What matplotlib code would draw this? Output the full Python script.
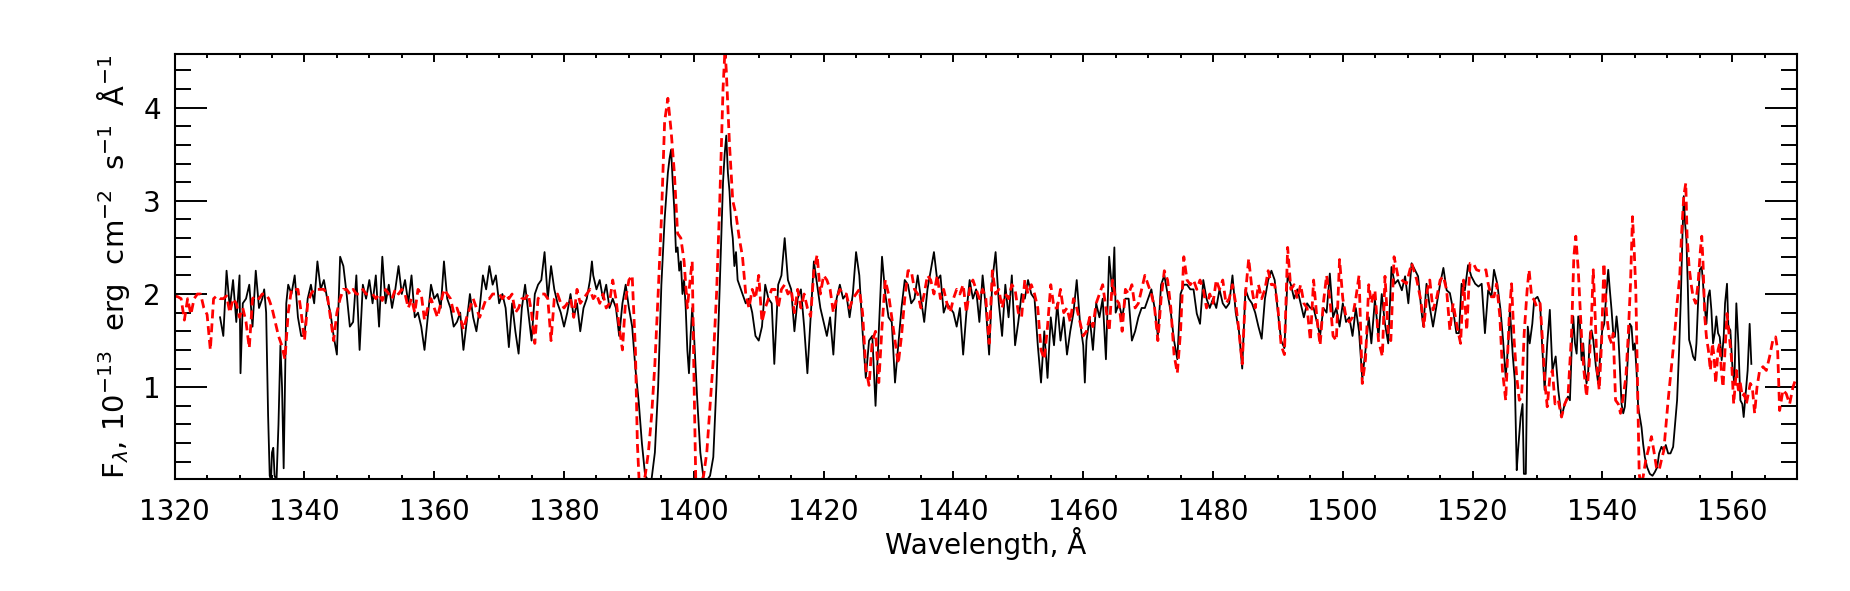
import matplotlib
matplotlib.use('Agg')
import matplotlib.pyplot as plt
from matplotlib.ticker import MultipleLocator

plt.rcParams.update({'font.family': 'DejaVu Sans', 'font.size': 20,
                     'mathtext.fontset': 'dejavusans', 'axes.linewidth': 1.5})

obs_wave = [
    1327.0, 1327.5, 1328.0, 1328.5, 1329.0, 1329.5, 1330.0, 1330.15, 1330.5, 1331.0,
    1331.5, 1332.0, 1332.5, 1333.0, 1333.5, 1333.8, 1334.1, 1334.4, 1334.65, 1334.85,
    1335.0, 1335.2, 1335.4, 1335.7, 1336.0, 1336.3, 1336.55, 1336.8, 1337.0, 1337.2,
    1337.5, 1338.0, 1338.5, 1339.0, 1339.5, 1340.0, 1340.5, 1341.0, 1341.5, 1342.0,
    1342.5, 1343.0, 1343.5, 1344.0, 1344.5, 1345.0, 1345.5, 1346.0, 1346.5, 1347.0,
    1347.5, 1348.0, 1348.5, 1349.0, 1349.5, 1350.0,
    1350.5, 1351.0, 1351.5, 1352.0, 1352.5, 1353.0, 1353.5, 1354.0, 1354.5, 1355.0,
    1355.5, 1356.0, 1356.5, 1357.0, 1357.5, 1358.0, 1358.5, 1359.0, 1359.5, 1360.0,
    1360.5, 1361.0, 1361.5, 1362.0, 1362.5, 1363.0, 1363.5, 1364.0, 1364.5, 1365.0,
    1365.5, 1366.0, 1366.5, 1367.0, 1367.5, 1368.0, 1368.5, 1369.0, 1369.5, 1370.0,
    1370.5, 1371.0, 1371.5, 1372.0, 1372.5, 1373.0, 1373.5, 1374.0, 1374.5, 1375.0,
    1375.5, 1376.0, 1376.5, 1377.0, 1377.5, 1378.0, 1378.5, 1379.0, 1379.5, 1380.0,
    1380.5, 1381.0, 1381.5,
    1382.0, 1382.5, 1383.0, 1383.5, 1384.0, 1384.3, 1384.5, 1385.0, 1385.5, 1386.0,
    1386.5, 1387.0, 1387.5, 1388.0, 1388.5, 1389.0, 1389.5, 1390.0, 1390.5, 1391.0,
    1391.5, 1392.0, 1392.5, 1393.0, 1393.5, 1394.0, 1394.5, 1395.0, 1395.5, 1395.75,
    1396.0, 1396.25, 1396.5, 1396.75, 1397.0, 1397.25, 1397.5, 1397.75, 1398.0, 1398.25,
    1398.5, 1398.75, 1399.0, 1399.25, 1399.5, 1399.75, 1400.0, 1400.5, 1401.0, 1401.5,
    1402.0, 1402.5, 1403.0, 1403.5, 1404.0, 1404.5, 1404.75, 1405.0, 1405.25, 1405.5,
    1405.75, 1406.0, 1406.25, 1406.5, 1406.75, 1407.0, 1407.5, 1408.0, 1408.5, 1409.0,
    1409.5, 1410.0, 1410.5, 1411.0, 1411.5,
    1412.0, 1412.4, 1413.0, 1413.5, 1414.0, 1414.5, 1415.0, 1415.5, 1416.0, 1416.5,
    1417.0, 1417.5, 1418.0, 1418.5, 1419.0, 1419.5, 1420.0, 1420.5, 1421.0, 1421.5,
    1422.0, 1422.5, 1423.0, 1423.5, 1424.0, 1424.5, 1425.0, 1425.5, 1426.0, 1426.5,
    1427.0, 1427.5, 1428.0, 1428.5, 1429.0, 1429.5, 1430.0, 1430.5, 1431.0, 1431.5,
    1432.0, 1432.5, 1433.0, 1433.5, 1434.0, 1434.5, 1435.0, 1435.5, 1436.0, 1436.5,
    1437.0, 1437.5, 1438.0, 1438.5, 1439.0, 1439.5, 1440.0, 1440.5, 1441.0, 1441.5,
    1442.0, 1442.5,
    1443.0, 1443.5, 1444.0, 1444.5, 1445.0, 1445.5, 1446.0, 1446.5, 1447.0, 1447.5,
    1448.0, 1448.5, 1449.0, 1449.5, 1450.0, 1450.5, 1451.0, 1451.5, 1452.0, 1452.5,
    1453.0, 1453.5, 1454.0, 1454.5, 1455.0, 1455.5, 1456.0, 1456.5, 1457.0, 1457.5,
    1458.0, 1458.5, 1459.0, 1459.5, 1460.0, 1460.25, 1460.5, 1461.0, 1461.5, 1462.0,
    1462.5, 1463.0, 1463.5, 1464.0, 1464.5, 1464.8, 1465.0, 1465.5, 1466.0, 1466.5,
    1467.0, 1467.5, 1468.0, 1468.5, 1469.0, 1469.5, 1470.0, 1470.5, 1471.0, 1471.5,
    1472.0, 1472.5, 1473.0, 1473.5,
    1474.0, 1474.5, 1475.0, 1475.5, 1476.0, 1476.5, 1477.0, 1477.5, 1478.0, 1478.5,
    1479.0, 1479.5, 1480.0, 1480.5, 1481.0, 1481.5, 1482.0, 1482.5, 1483.0, 1483.5,
    1484.0, 1484.5, 1485.0, 1485.5, 1486.0, 1486.5, 1487.0, 1487.5, 1488.0, 1488.5,
    1489.0, 1489.5, 1490.0, 1490.5, 1491.0, 1491.5, 1492.0, 1492.5, 1493.0, 1493.5,
    1494.0, 1494.5, 1495.0, 1495.5, 1496.0, 1496.5, 1497.0, 1497.5, 1498.0, 1498.5,
    1499.0, 1499.5, 1500.0, 1500.5, 1501.0, 1501.5, 1502.0, 1502.5, 1503.0, 1503.5,
    1504.0,
    1504.4, 1504.95, 1505.5, 1506.0, 1506.5, 1507.0, 1507.5, 1508.0, 1508.5, 1509.1,
    1509.6, 1510.1, 1510.6, 1511.1, 1511.6, 1512.1, 1512.4, 1512.9, 1513.4, 1513.9,
    1514.5, 1515.0, 1515.5, 1516.0, 1516.5, 1517.0, 1517.5, 1517.9, 1518.3, 1518.8,
    1519.3, 1519.8, 1520.4, 1520.9, 1521.4, 1521.9, 1522.4, 1522.9, 1523.3, 1523.8,
    1524.3, 1524.7, 1525.1, 1525.5, 1525.75, 1526.2, 1526.5, 1526.8, 1527.0, 1527.4,
    1527.7, 1527.9, 1528.2, 1528.5, 1528.8, 1529.2, 1529.5, 1530.0, 1530.4, 1530.7,
    1531.1, 1531.5, 1531.9, 1532.3, 1532.8, 1533.2, 1533.7, 1534.2, 1534.7,
    1535.0, 1535.26, 1535.51, 1535.77, 1536.03, 1536.28, 1536.54, 1536.79, 1537.05, 1537.31,
    1537.56, 1537.82, 1538.08, 1538.33, 1538.59, 1539.0, 1539.36, 1539.72, 1539.97, 1540.28,
    1540.64, 1540.9, 1541.15, 1541.41, 1541.67, 1541.92, 1542.18, 1542.44, 1542.69, 1542.95,
    1543.21, 1543.46, 1543.72, 1543.97, 1544.23, 1544.49, 1544.74, 1545.0, 1545.26, 1545.51,
    1545.77, 1546.03, 1546.28, 1546.54, 1546.9, 1547.31, 1547.72, 1548.08, 1548.44, 1548.74,
    1549.1, 1549.46, 1549.77, 1550.13, 1550.49, 1550.9, 1551.15, 1551.51, 1551.82, 1552.08,
    1552.33, 1552.54, 1552.74, 1552.95, 1553.15, 1553.36, 1553.67, 1553.97, 1554.28, 1554.49,
    1554.74, 1555.0, 1555.31, 1555.51, 1555.72, 1556.03, 1556.28, 1556.54, 1556.79, 1557.05,
    1557.31, 1557.56, 1557.82, 1558.08, 1558.38, 1558.69, 1558.9, 1559.2, 1559.41, 1559.72,
    1560.03, 1560.33, 1560.64, 1560.95, 1561.26, 1561.56, 1561.77, 1562.08, 1562.38, 1562.69,
    1562.95,
]
obs_flux = [
    1.75, 1.55, 2.25, 1.85, 2.15, 1.70, 2.20, 1.15, 1.90, 1.95,
    2.10, 1.65, 2.25, 1.85, 1.95, 2.05, 1.80, 0.70, 0.05, 0.00,
    0.30, 0.35, 0.05, 0.00, 0.60, 1.45, 1.00, 0.13, 1.00, 1.90,
    2.10, 2.00, 2.20, 1.75, 1.55, 1.55, 1.95, 2.10, 1.90, 2.35,
    2.05, 2.15, 1.95, 1.80, 1.55, 1.35, 2.40, 2.30, 2.00, 1.65,
    1.70, 2.20, 1.40, 2.10, 1.95, 2.15,
    1.90, 2.20, 1.65, 2.40, 1.90, 2.10, 1.85, 2.05, 2.30, 2.00,
    2.15, 1.90, 2.20, 1.75, 1.80, 1.65, 1.40, 1.75, 2.10, 1.95,
    2.00, 1.85, 2.35, 1.95, 1.85, 1.65, 1.70, 1.80, 1.40, 1.70,
    2.00, 1.75, 1.60, 1.85, 2.20, 2.05, 2.30, 2.10, 2.20, 1.90,
    2.00, 1.85, 1.43, 1.90, 1.60, 1.36, 1.85, 2.10, 1.80, 1.50,
    2.00, 2.10, 2.15, 2.45, 1.95, 2.30, 2.05, 1.90, 1.80, 1.65,
    1.80, 2.00, 1.75,
    1.90, 1.60, 1.85, 1.95, 2.15, 2.35, 2.20, 2.05, 2.15, 1.95,
    2.10, 1.85, 1.95, 1.85, 1.55, 1.90, 2.10, 1.85, 1.65, 1.20,
    0.85, 0.40, 0.05, 0.00, 0.02, 0.30, 1.00, 2.10, 2.80, 3.05,
    3.30, 3.45, 3.55, 3.20, 2.90, 2.45, 2.50, 2.25, 2.35, 2.00,
    2.15, 1.85, 1.40, 1.15, 1.55, 1.85, 1.60, 0.90, 0.30, 0.02,
    0.00, 0.05, 0.25, 1.05, 2.10, 3.20, 3.50, 3.70, 3.30, 3.10,
    2.75, 2.60, 2.30, 2.45, 2.15, 2.10, 2.00, 1.90, 1.95, 1.80,
    1.55, 1.50, 1.65, 2.10, 1.95,
    1.90, 1.25, 2.10, 2.20, 2.60, 2.15, 2.05, 1.60, 1.95, 2.05,
    1.65, 1.15, 1.75, 2.35, 2.10, 1.85, 1.70, 1.55, 1.75, 1.35,
    1.95, 2.10, 1.95, 2.00, 1.75, 2.00, 2.45, 2.20, 1.60, 1.10,
    1.50, 1.55, 0.80, 1.60, 2.40, 2.00, 1.75, 1.70, 1.05, 1.45,
    1.85, 2.15, 2.10, 1.90, 1.95, 2.20, 1.95, 1.70, 2.05, 2.25,
    2.45, 2.15, 2.20, 1.80, 1.90, 1.85, 1.80, 1.65, 1.85, 1.35,
    1.80, 2.15,
    1.95, 2.05, 1.70, 2.20, 1.85, 1.35, 2.15, 2.45, 1.90, 1.55,
    2.10, 1.75, 2.20, 1.45, 1.70, 2.00, 1.95, 2.15, 2.00, 1.95,
    1.45, 1.05, 1.60, 1.10, 1.75, 1.45, 1.90, 1.50, 1.75, 1.35,
    1.60, 1.80, 2.15, 1.70, 1.45, 1.05, 1.50, 1.75, 1.40, 1.90,
    1.75, 1.95, 1.30, 2.40, 2.00, 2.50, 1.80, 1.90, 1.75, 1.95,
    1.95, 1.50, 1.60, 1.75, 1.85, 1.85, 1.95, 2.05, 1.85, 1.55,
    2.10, 2.20, 2.00, 1.80,
    1.50, 1.30, 2.00, 2.10, 2.10, 2.05, 2.05, 1.79, 1.68, 2.15,
    1.95, 1.85, 1.95, 1.85, 2.05, 1.90, 1.85, 1.90, 2.20, 1.80,
    1.60, 1.20, 2.05, 1.95, 1.90, 1.80, 1.65, 1.52, 1.95, 2.15,
    2.25, 2.15, 1.80, 1.50, 1.42, 2.20, 2.10, 1.95, 2.05, 1.90,
    1.75, 1.90, 1.85, 1.85, 1.70, 1.55, 1.85, 1.80, 2.22, 1.75,
    1.85, 1.65, 1.90, 1.70, 1.75, 1.55, 1.85, 1.60, 1.09, 1.40,
    1.75,
    1.47, 1.94, 1.54, 2.00, 1.68, 1.47, 2.29, 2.11, 2.15, 2.04,
    2.19, 1.90, 2.33, 2.26, 2.19, 1.83, 1.65, 2.11, 1.86, 1.65,
    1.90, 2.11, 2.28, 2.04, 2.01, 1.83, 1.58, 1.58, 2.11, 2.04,
    2.31, 2.19, 2.11, 2.08, 2.11, 1.58, 2.04, 1.97, 2.26, 2.11,
    1.83, 1.50, 1.11, 1.47, 1.83, 1.33, 1.08, 0.11, 0.32, 0.68,
    0.82, 0.07, 0.07, 1.65, 1.47, 1.68, 1.94, 1.97, 1.90, 1.47,
    0.97, 1.47, 1.83, 1.18, 1.33, 0.97, 0.68, 0.82, 0.90,
    0.86, 1.40, 1.76, 1.47, 1.36, 1.76, 1.68, 1.29, 1.47, 1.18,
    1.04, 1.18, 1.58, 1.61, 1.51, 1.22, 1.04, 1.40, 1.61, 1.68,
    2.04, 2.26, 2.04, 1.83, 1.58, 1.54, 1.76, 1.58, 1.22, 0.82,
    0.72, 0.79, 1.04, 1.40, 1.68, 1.65, 1.40, 1.47, 1.18, 0.79,
    0.68, 0.57, 0.39, 0.25, 0.14, 0.07, 0.05, 0.09, 0.14, 0.29,
    0.36, 0.32, 0.38, 0.29, 0.29, 0.36, 0.57, 0.86, 1.40, 1.94,
    2.62, 3.05, 2.76, 2.58, 2.11, 1.51, 1.43, 1.33, 1.29, 1.47,
    1.90, 2.26, 2.29, 2.11, 1.90, 1.68, 1.97, 2.04, 1.83, 1.47,
    1.58, 1.76, 1.58, 1.54, 1.29, 1.54, 1.90, 2.11, 1.65, 1.61,
    1.22, 1.04, 1.90, 1.47, 0.86, 0.82, 0.68, 0.93, 1.18, 1.68,
    1.25,
]

# model spectrum (red, dashed)
model_wave = [
    1320.0, 1320.5, 1321.0, 1321.5, 1322.0, 1322.5, 1323.0, 1323.5, 1324.0, 1324.5,
    1325.0, 1325.5, 1326.0, 1326.5, 1327.0, 1327.5, 1328.0, 1328.5, 1329.0, 1329.5,
    1330.0, 1330.5, 1331.0, 1331.5, 1332.0, 1332.5, 1333.0, 1333.5, 1334.0, 1334.5,
    1335.0, 1335.5, 1336.0, 1336.5, 1337.0, 1337.5, 1338.0, 1338.5, 1339.0, 1339.5,
    1340.0, 1340.5, 1341.0, 1341.5, 1342.0, 1342.5, 1343.0, 1343.5, 1344.0, 1344.5,
    1345.0, 1345.5, 1346.0, 1346.5, 1347.0, 1347.5, 1348.0, 1348.5, 1349.0, 1349.5,
    1350.0, 1350.5, 1351.0, 1351.5, 1352.0, 1352.5, 1353.0, 1353.5, 1354.0, 1354.5,
    1355.0, 1355.5, 1356.0, 1356.5, 1357.0, 1357.5, 1358.0, 1358.5, 1359.0, 1359.5,
    1360.0, 1360.5, 1361.0, 1361.5, 1362.0, 1362.5, 1363.0, 1363.5, 1364.0, 1364.5,
    1365.0, 1365.5, 1366.0, 1366.5, 1367.0, 1367.5, 1368.0, 1368.5, 1369.0, 1369.5,
    1370.0, 1370.5, 1371.0, 1371.5, 1372.0, 1372.5, 1373.0, 1373.5, 1374.0, 1374.5,
    1375.0, 1375.5, 1376.0, 1376.5, 1377.0, 1377.5, 1378.0, 1378.5, 1379.0, 1379.5,
    1380.0, 1380.5, 1381.0, 1381.5, 1382.0,
    1382.5, 1383.0, 1383.5, 1384.0, 1384.5, 1385.0, 1385.5, 1386.0, 1386.5, 1387.0,
    1387.5, 1388.0, 1388.5, 1389.0, 1389.5, 1390.0, 1390.5, 1391.0, 1391.3, 1391.6,
    1392.0, 1392.5, 1393.0, 1393.5, 1394.0, 1394.5, 1395.0, 1395.5, 1396.0, 1396.5,
    1397.0, 1397.5, 1398.0, 1398.5, 1399.0, 1399.5, 1399.75, 1400.0, 1400.3, 1400.6,
    1401.0, 1401.5, 1402.0, 1402.5, 1403.0, 1403.5, 1404.0, 1404.5, 1404.8, 1405.0,
    1405.5, 1406.0, 1406.5, 1407.0, 1407.5, 1408.0, 1408.5, 1409.0, 1409.5, 1410.0,
    1410.5, 1411.0, 1411.5,
    1412.0, 1412.5, 1413.0, 1413.5, 1414.0, 1414.5, 1415.0, 1415.5, 1416.0, 1416.5,
    1417.0, 1417.5, 1418.0, 1418.5, 1419.0, 1419.5, 1420.0, 1420.5, 1421.0, 1421.5,
    1422.0, 1422.5, 1423.0, 1423.5, 1424.0, 1424.5, 1425.0, 1425.5, 1426.0, 1426.5,
    1427.0, 1427.5, 1428.0, 1428.5, 1429.0, 1429.5, 1430.0, 1430.5, 1431.0, 1431.5,
    1432.0, 1432.5, 1433.0, 1433.5, 1434.0, 1434.5, 1435.0, 1435.5, 1436.0, 1436.5,
    1437.0, 1437.5, 1438.0, 1438.5, 1439.0, 1439.5, 1440.0, 1440.5, 1441.0, 1441.5,
    1442.0, 1442.5, 1443.0, 1443.5, 1444.0,
    1444.5, 1445.0, 1445.5, 1446.0, 1446.5, 1447.0, 1447.5, 1448.0, 1448.5, 1449.0,
    1449.5, 1450.0, 1450.5, 1451.0, 1451.5, 1452.0, 1452.5, 1453.0, 1453.5, 1454.0,
    1454.5, 1455.0, 1455.5, 1456.0, 1456.5, 1457.0, 1457.5, 1458.0, 1458.5, 1459.0,
    1459.5, 1460.0, 1460.5, 1461.0, 1461.5, 1462.0, 1462.5, 1463.0, 1463.5, 1464.0,
    1464.5, 1465.0, 1465.5, 1466.0, 1466.5, 1467.0, 1467.5, 1468.0, 1468.5, 1469.0,
    1469.5, 1470.0, 1470.5, 1471.0, 1471.5, 1472.0, 1472.5, 1473.0, 1473.5, 1474.0,
    1474.5,
    1475.0, 1475.5, 1476.0, 1476.5, 1477.0, 1477.5, 1478.0, 1478.5, 1479.0, 1479.5,
    1480.0, 1480.5, 1481.0, 1481.5, 1482.0, 1482.5, 1483.0, 1483.5, 1484.0, 1484.5,
    1485.0, 1485.5, 1486.0, 1486.5, 1487.0, 1487.5, 1488.0, 1488.5, 1489.0, 1489.5,
    1490.0, 1490.5, 1491.0, 1491.5, 1492.0, 1492.5, 1493.0, 1493.5, 1494.0, 1494.5,
    1495.0, 1495.5, 1496.0, 1496.5, 1497.0, 1497.5, 1498.0, 1498.5, 1499.0, 1499.5,
    1500.0, 1500.5, 1501.0, 1501.5, 1502.0, 1502.5, 1503.0, 1503.5, 1504.0,
    1504.4, 1504.95, 1505.5, 1506.1, 1506.5, 1507.0, 1507.4, 1507.9, 1508.5, 1509.1,
    1509.8, 1510.6, 1511.4, 1512.0, 1512.5, 1513.0, 1513.4, 1513.9, 1514.5, 1515.0,
    1515.5, 1516.0, 1516.5, 1517.0, 1517.6, 1518.15, 1518.6, 1519.1, 1519.6, 1520.1,
    1520.6, 1521.4, 1522.05, 1522.4, 1522.9, 1523.3, 1523.7, 1524.2, 1524.6, 1525.1,
    1525.65, 1526.0, 1526.4, 1526.8, 1527.2, 1527.55, 1527.95, 1528.4, 1528.7, 1529.1,
    1529.45, 1529.9, 1530.4, 1530.8, 1531.15, 1531.5, 1531.9, 1532.3, 1532.7, 1533.2,
    1533.7, 1534.2, 1534.7, 1535.25, 1535.6, 1535.9,
    1536.28, 1536.54, 1536.79, 1537.15, 1537.56, 1537.97, 1538.33, 1538.59, 1538.85, 1539.2,
    1539.51, 1539.87, 1540.23, 1540.64, 1541.05, 1541.41, 1541.67, 1542.03, 1542.44, 1542.79,
    1543.21, 1543.62, 1543.97, 1544.33, 1544.64, 1544.9, 1545.15, 1545.41, 1545.67, 1545.92,
    1546.28, 1546.69, 1547.05, 1547.56, 1547.92, 1548.33, 1548.74, 1549.1, 1549.46, 1549.77,
    1550.13, 1550.64, 1551.15, 1551.51, 1551.92, 1552.18, 1552.54, 1552.85, 1553.05, 1553.36,
    1553.67, 1553.97, 1554.38, 1554.74, 1555.1, 1555.31, 1555.51, 1555.77, 1556.03, 1556.33,
    1556.64, 1556.95, 1557.21, 1557.46, 1557.82, 1558.08, 1558.33, 1558.59, 1558.9, 1559.2,
    1559.51, 1559.87, 1560.23, 1560.64, 1560.95, 1561.26, 1561.56, 1561.87, 1562.18, 1562.49,
    1562.79, 1563.1, 1563.46, 1563.82, 1564.23, 1564.74, 1565.26, 1565.77, 1566.28, 1566.69,
    1567.0, 1567.31, 1567.82, 1568.33, 1568.85, 1569.36, 1569.9,
]
model_flux = [
    1.98, 1.97, 1.95, 1.72, 1.95, 1.78, 1.95, 2.00, 2.00, 1.85,
    1.78, 1.40, 1.95, 1.98, 1.95, 1.95, 1.98, 1.80, 1.95, 1.90,
    1.75, 1.85, 1.70, 1.42, 1.95, 1.98, 1.95, 2.00, 2.00, 1.95,
    1.85, 1.70, 1.55, 1.45, 1.30, 1.80, 2.05, 2.05, 2.05, 1.80,
    1.50, 1.90, 2.00, 2.05, 2.05, 2.05, 2.05, 2.00, 1.75, 1.50,
    1.80, 1.95, 2.05, 2.05, 2.00, 2.05, 2.00, 2.00, 2.05, 2.00,
    2.00, 2.00, 1.95, 2.00, 1.93, 2.05, 2.00, 1.95, 2.05, 2.00,
    2.05, 2.00, 1.85, 1.95, 1.80, 2.05, 2.00, 1.72, 1.85, 1.95,
    1.85, 1.75, 1.90, 2.05, 2.00, 1.95, 1.80, 1.85, 1.75, 1.62,
    1.75, 1.85, 1.95, 1.85, 1.75, 1.85, 1.95, 1.95, 2.00, 2.00,
    2.00, 1.95, 2.00, 1.95, 2.00, 1.80, 1.85, 1.95, 1.95, 2.00,
    1.80, 1.47, 1.95, 2.00, 2.00, 1.95, 1.50, 1.95, 2.00, 1.90,
    1.85, 1.90, 1.95, 1.75, 2.05,
    1.90, 1.95, 2.00, 2.05, 1.95, 2.00, 1.90, 2.00, 1.85, 1.90,
    2.15, 1.95, 1.65, 1.40, 1.95, 2.15, 2.20, 1.40, 0.40, -0.05,
    -0.08, 0.05, 0.30, 0.70, 1.25, 2.00, 2.80, 3.85, 4.10, 3.75,
    3.30, 2.65, 2.60, 2.35, 1.85, 2.20, 2.35, 1.20, 0.00, -0.08,
    -0.05, 0.05, 0.30, 0.80, 1.30, 2.00, 3.00, 4.20, 4.62, 4.40,
    3.60, 3.00, 2.85, 2.60, 2.40, 2.00, 1.85, 2.05, 1.95, 2.20,
    1.70, 1.85, 1.95,
    2.05, 2.05, 1.85, 2.05, 2.10, 2.00, 2.05, 1.80, 2.05, 1.85,
    2.00, 1.85, 1.76, 2.25, 2.42, 2.00, 2.20, 2.15, 2.05, 1.80,
    1.95, 2.05, 2.00, 2.00, 1.85, 1.95, 2.00, 2.05, 1.80, 1.20,
    1.02, 1.50, 1.60, 1.05, 1.65, 2.15, 2.00, 1.75, 1.50, 1.25,
    1.55, 1.95, 2.25, 2.25, 2.05, 2.00, 1.85, 2.00, 2.20, 2.15,
    2.00, 2.20, 1.95, 2.05, 1.90, 1.80, 1.95, 2.05, 2.00, 2.10,
    1.80, 2.05, 2.15, 2.05, 1.95,
    2.05, 1.95, 1.47, 2.25, 2.00, 2.05, 1.85, 2.00, 1.95, 2.10,
    2.05, 1.80, 1.75, 2.15, 2.00, 2.10, 2.00, 1.85, 1.40, 1.30,
    1.65, 2.10, 1.85, 1.85, 2.05, 1.80, 1.85, 1.70, 1.95, 1.85,
    1.70, 1.55, 1.60, 1.75, 1.65, 1.90, 2.00, 2.10, 1.85, 1.60,
    2.15, 1.95, 1.90, 1.60, 2.05, 2.00, 2.10, 1.85, 1.90, 2.05,
    2.20, 2.10, 2.00, 1.85, 1.50, 1.95, 2.25, 2.15, 1.85, 1.35,
    1.15,
    1.60, 2.40, 2.15, 2.10, 2.15, 2.05, 2.15, 2.05, 1.85, 2.00,
    1.90, 2.15, 2.05, 2.15, 1.90, 1.95, 2.10, 1.90, 1.60, 1.25,
    2.00, 2.38, 2.05, 1.85, 2.10, 1.95, 2.05, 2.25, 2.10, 2.10,
    1.85, 1.45, 1.35, 2.50, 2.05, 2.10, 1.95, 2.10, 1.90, 1.85,
    1.50, 2.15, 1.75, 1.45, 1.90, 2.20, 1.95, 1.55, 1.50, 2.37,
    1.95, 1.75, 1.70, 1.75, 1.95, 2.20, 1.04, 1.30, 2.10,
    1.90, 2.04, 1.50, 1.33, 2.19, 1.58, 1.50, 2.40, 2.19, 2.15,
    2.11, 2.33, 2.15, 1.94, 1.65, 2.04, 2.15, 1.83, 1.97, 2.15,
    2.19, 2.04, 1.61, 1.90, 1.65, 1.47, 2.15, 1.61, 2.33, 2.33,
    2.26, 2.24, 2.26, 2.11, 1.97, 1.97, 2.11, 1.76, 1.18, 0.86,
    1.76, 2.11, 1.50, 1.11, 0.86, 0.90, 1.58, 2.04, 2.26, 1.97,
    1.94, 1.86, 1.90, 1.47, 1.04, 0.79, 1.11, 1.18, 0.82, 0.86,
    0.68, 0.82, 0.90, 1.58, 2.40, 2.62,
    2.26, 1.90, 1.54, 1.18, 0.90, 1.25, 1.76, 2.26, 1.83, 1.18,
    0.97, 1.47, 2.33, 1.79, 1.54, 1.47, 1.58, 0.86, 0.82, 0.72,
    0.90, 1.11, 1.54, 2.11, 2.83, 2.47, 2.04, 1.04, 0.07, -0.05,
    0.04, 0.22, 0.32, 0.47, 0.32, 0.14, 0.11, 0.22, 0.32, 0.57,
    0.86, 1.22, 1.58, 1.90, 2.19, 2.62, 3.05, 3.19, 2.62, 2.29,
    2.11, 1.97, 1.90, 2.11, 2.47, 2.62, 2.33, 1.76, 1.54, 1.40,
    1.18, 1.47, 1.33, 1.04, 1.40, 1.47, 1.18, 1.00, 1.40, 1.79,
    1.58, 1.33, 0.82, 1.18, 0.97, 1.04, 0.90, 0.93, 0.82, 0.93,
    1.04, 1.00, 0.72, 1.00, 1.18, 1.22, 1.18, 1.33, 1.51, 1.54,
    1.40, 0.75, 0.97, 0.93, 0.82, 1.00, 1.11,
]

x_range = (1320, 1570)
y_range = (0.01, 4.57)

fig = plt.figure(figsize=(18.5, 5.91), dpi=100)
ax = fig.add_axes([0.0944, 0.1887, 0.877, 0.7191])

ax.plot(obs_wave, obs_flux, color='black', linewidth=1.3)
ax.plot(model_wave, model_flux, color='red', linewidth=2.0, linestyle=(0, (3.2, 1.8)))

ax.set_xlim(*x_range)
ax.set_ylim(*y_range)
ax.xaxis.set_major_locator(MultipleLocator(20))
ax.xaxis.set_minor_locator(MultipleLocator(5))
ax.yaxis.set_major_locator(MultipleLocator(1))
ax.yaxis.set_minor_locator(MultipleLocator(0.2))

ax.tick_params(which='both', direction='in', top=True, right=True, width=1.4)
ax.tick_params(axis='x', which='major', length=6, pad=13)
ax.tick_params(axis='x', which='minor', length=3)
ax.tick_params(axis='y', which='major', length=23, pad=10)
ax.tick_params(axis='y', which='minor', length=11.5)

ax.set_xlabel('Wavelength, Å', labelpad=1)
ax.set_ylabel(r'F$_\lambda$, 10$^{-13}$  erg  cm$^{-2}$  s$^{-1}$  Å$^{-1}$',
              fontsize=21, labelpad=8)

fig.savefig('out.png', dpi=100)
